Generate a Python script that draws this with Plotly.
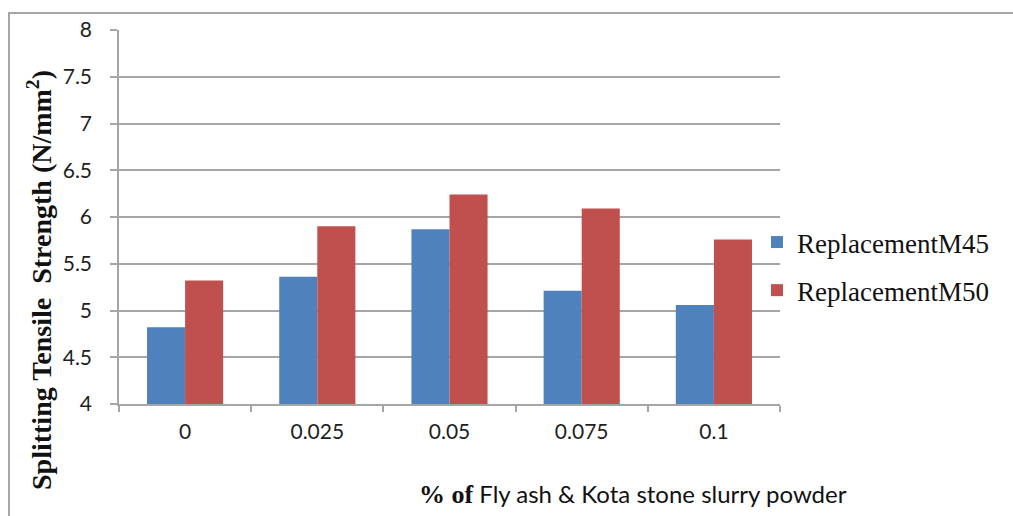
import plotly.graph_objects as go

# Replacement level (fraction of fly ash & Kota stone slurry powder)
categories = ["0", "0.025", "0.05", "0.075", "0.1"]
m45_strength = [4.82, 5.36, 5.87, 5.21, 5.06]
m50_strength = [5.32, 5.90, 6.24, 6.09, 5.76]
series_names = ["ReplacementM45", "ReplacementM50"]

W, H = 1013, 516
L, R, T, B = 119, 233, 30, 112
plot_w, plot_h = W - L - R, H - T - B


def px_x(x):
    return (x - L) / plot_w


def px_y(y):
    return (H - B - y) / plot_h


fig = go.Figure()
fig.add_trace(go.Bar(x=categories, y=m45_strength, name=series_names[0],
                     marker=dict(color="#4F81BD", line=dict(width=0)),
                     legendgroup="a"))
fig.add_trace(go.Bar(x=categories, y=m50_strength, name=series_names[1],
                     marker=dict(color="#C0504D", line=dict(width=0)),
                     legendgroup="b"))

grid = "#A6A6A6"
tick_font = dict(family="Lato", size=21, color="#1E1E1E")

fig.update_layout(
    width=W, height=H,
    margin=dict(l=L, r=R, t=T, b=B, pad=0),
    paper_bgcolor="white", plot_bgcolor="white",
    barmode="group", bargap=0.424, bargroupgap=0,
    showlegend=True,
    legend=dict(x=px_x(757), xanchor="left", y=px_y(266.5), yanchor="middle",
                font=dict(family="Liberation Serif", size=27, color="#111111"),
                bgcolor="rgba(0,0,0,0)", tracegroupgap=10, traceorder="grouped"),
    xaxis=dict(type="category", showgrid=False, showline=True, linecolor=grid,
               linewidth=1.5, ticks="outside", tickson="boundaries", ticklen=6,
               tickcolor=grid, tickwidth=1.5, tickfont=tick_font,
               ticklabelstandoff=8),
    yaxis=dict(range=[4, 8], dtick=0.5, showgrid=True, gridcolor=grid,
               gridwidth=1.5, showline=True, linecolor=grid, linewidth=1.5,
               ticks="outside", ticklen=7, tickcolor=grid, tickwidth=1.5,
               tickfont=tick_font, ticklabelstandoff=14, zeroline=False),
    shapes=[dict(type="rect", xref="paper", yref="paper",
                 x0=px_x(9), x1=px_x(W + 40), y0=px_y(H + 40), y1=px_y(13),
                 line=dict(color="#A6A6A6", width=2), layer="below")],
    annotations=[
        dict(text="<b>Splitting Tensile \u00a0Strength (N/mm<sup>2</sup>)</b>",
             xref="paper", yref="paper", x=px_x(39), y=px_y(280),
             xanchor="center", yanchor="middle", textangle=-90, showarrow=False,
             font=dict(family="Liberation Serif", size=28, color="#111111")),
        dict(text="<b><span style='font-family:Liberation Serif;font-size:26px'>"
                  "% of</span></b> Fly ash &amp; Kota stone slurry powder",
             xref="paper", yref="paper", x=px_x(633), y=px_y(494),
             xanchor="center", yanchor="middle", showarrow=False,
             font=dict(family="Lato", size=24, color="#111111")),
    ],
)

fig.write_html("out.html")
